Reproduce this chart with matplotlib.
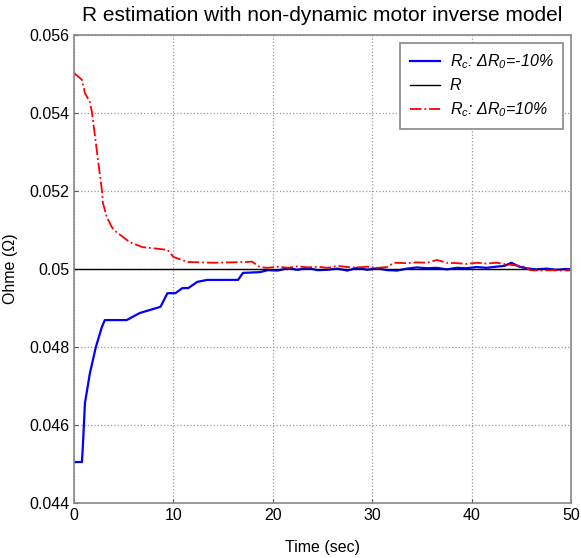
import matplotlib
matplotlib.use("Agg")
import matplotlib.pyplot as plt
from matplotlib.ticker import FuncFormatter

plt.rcParams['font.family'] = ['Liberation Sans', 'DejaVu Sans']
plt.rcParams['mathtext.fontset'] = 'custom'
plt.rcParams['mathtext.it'] = 'Liberation Sans:italic'
plt.rcParams['mathtext.rm'] = 'Liberation Sans:italic'

# R_c with dR0 = -10%
t_low = [0, 0.8, 0.9, 1.1, 1.6, 2.2, 2.8, 3.1, 5.3, 6.6, 8.7, 9.4, 10.2, 10.9, 11.5,
         12.4, 13.4, 16.5, 17.0, 18.7, 19.5, 20.5, 21.5, 22.5, 23.5, 24.5, 25.5, 26.5,
         27.5, 28.5, 29.5, 30.5, 31.5, 32.5, 33.5, 34.5, 35.5, 36.5, 37.5, 38.5, 39.5,
         40.5, 41.5, 42.5, 43.3, 44.0, 44.8, 45.5, 46.5, 47.5, 48.5, 49.5, 50]
r_low = [0.04505, 0.04505, 0.0455, 0.04656, 0.04733, 0.0480, 0.04851, 0.04869, 0.04869,
         0.04887, 0.04903, 0.04938, 0.04938, 0.04951, 0.04951, 0.04967, 0.04972, 0.04972,
         0.0499, 0.04992, 0.04997, 0.04996, 0.05002, 0.04998, 0.05003, 0.04997, 0.04998,
         0.05001, 0.04996, 0.05003, 0.04998, 0.05002, 0.04997, 0.04996, 0.05001, 0.05004,
         0.05002, 0.05003, 0.04999, 0.05003, 0.05002, 0.05005, 0.05003, 0.05006, 0.05008,
         0.05016, 0.05006, 0.05002, 0.04999, 0.05001, 0.04998, 0.05000, 0.04999]

# real R
t_ref = [0, 50]
r_ref = [0.05, 0.05]

# R_c with dR0 = +10%
t_high = [0, 0.8, 1.1, 1.6, 1.8, 2.8, 2.9, 3.3, 3.8, 4.0, 5.6, 6.9, 8.4, 9.4, 10.0,
          11.4, 14.0, 17.4, 17.9, 18.7, 19.5, 20.5, 21.5, 22.5, 23.5, 24.5, 25.5, 26.5,
          27.5, 28.5, 29.5, 30.5, 31.5, 32.2, 33.5, 34.5, 35.5, 36.5, 37.5, 38.5, 39.5,
          40.5, 41.5, 42.5, 43.5, 44.5, 45.3, 45.9, 47.0, 48.0, 49.0, 50]
r_high = [0.05503, 0.05485, 0.05451, 0.05428, 0.05403, 0.05203, 0.0517, 0.05133, 0.05108,
          0.0510, 0.05069, 0.05056, 0.05052, 0.05049, 0.05031, 0.05018, 0.05016, 0.05018,
          0.05019, 0.05005, 0.05003, 0.05006, 0.05003, 0.05007, 0.05004, 0.05006, 0.05003,
          0.05008, 0.05005, 0.05004, 0.05006, 0.05003, 0.05005, 0.05016, 0.05015, 0.05017,
          0.05016, 0.05023, 0.05016, 0.05015, 0.05013, 0.05016, 0.05014, 0.05016, 0.05012,
          0.05009, 0.05006, 0.04997, 0.04996, 0.04997, 0.04996, 0.04997]

x_ticks = [0, 10, 20, 30, 40, 50]
y_ticks = [0.044, 0.046, 0.048, 0.05, 0.052, 0.054, 0.056]

fig = plt.figure(figsize=(5.81, 5.58), dpi=100)
ax = fig.add_axes([74/581, 1 - 503/558, 497/581, 468/558])

ax.plot(t_low, r_low, color='blue', lw=1.6, label=r'$R_c$: ΔR$_0$=-10%')
ax.plot(t_ref, r_ref, color='black', lw=1.0, label='R')
ax.plot(t_high, r_high, color='red', lw=1.3, ls='-.', label=r'$R_c$: ΔR$_0$=10%')

ax.set_xlim(0, 50)
ax.set_ylim(0.044, 0.056)
ax.set_xticks(x_ticks)
ax.set_yticks(y_ticks)
ax.yaxis.set_major_formatter(FuncFormatter(lambda v, p: '%g' % round(v, 4)))
ax.tick_params(labelsize=11.5, direction='in', length=3, color='#555555')
ax.grid(True, ls=':', color='#999999', lw=0.9)
for s in ax.spines.values():
    s.set_color('#888888')
    s.set_linewidth(1.2)

ax.set_title('R estimation with non-dynamic motor inverse model', fontsize=15, pad=10)
ax.set_xlabel('Time (sec)', fontsize=11.5, labelpad=12)
ax.set_ylabel('Ohme (\u03a9)', fontsize=11.5, labelpad=8)

leg = ax.legend(loc='upper right', prop={'style': 'italic', 'size': 11.5},
                frameon=True, fancybox=False, edgecolor='#888888', framealpha=1,
                handlelength=1.9, handletextpad=0.6, labelspacing=0.45,
                borderpad=0.6, borderaxespad=0.5)
leg.get_frame().set_linewidth(1.2)

fig.savefig('out.png', dpi=100)
